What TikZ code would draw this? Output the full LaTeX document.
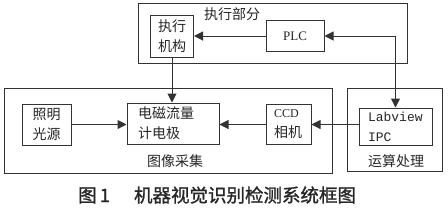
\documentclass[tikz,border=0pt]{standalone}
\usepackage{fontspec}
\setmainfont{Liberation Serif}
\newfontfamily\cjk{Noto Sans CJK SC}
\newfontfamily\cjkcap[FakeBold=1.2]{Noto Sans CJK SC}
\newfontfamily\mono{Liberation Mono}
\usetikzlibrary{arrows.meta}
\begin{document}
\begin{tikzpicture}[x=1pt,y=-1pt,
  box/.style={draw=black!80, line width=1pt, inner sep=0pt, font=\cjk\fontsize{14}{20}\selectfont, text=black!85, align=center},
  frame/.style={draw=black!80, line width=1pt},
  tip/.tip={Triangle[length=9pt,width=9pt]},
  arr/.style={draw=black!80, line width=1pt, -tip},
  lab/.style={font=\cjk\fontsize{14}{20}\selectfont, text=black!85, inner sep=0pt}]
\useasboundingbox (0,0) rectangle (448,210);
% frames
\draw[frame] (138,3) rectangle (407,63);
\draw[frame] (4,88) rectangle (332,173);
\draw[frame] (347,88) rectangle (442,171);
% top part
\node[lab] (tz) at (232,14) {执行部分};
\node[box, minimum width=43, minimum height=42] (zx) at (172,36) {执行\\机构};
\node[box, minimum width=58, minimum height=31, font=\rmfamily\fontsize{13}{15}\selectfont] (plc) at (295,36) {PLC};
% bottom part
\node[box, minimum width=49, minimum height=41] (zm) at (46.5,124.5) {照明\\光源};
\node[box, minimum height=41, text width=70, inner xsep=11, align=left] (dc) at (173,123.5) {电磁流量\\计电极};
\node[box, minimum height=40, text width=29, inner xsep=8, align=left] (ccd) at (288.5,124.5) {{\rmfamily\fontsize{12}{20}\selectfont CCD}\\相机};
\node[box, minimum height=37, text width=55, inner xsep=9, align=left, font=\mono\fontsize{13}{20}\selectfont] (lv) at (395.5,126.5) {Labview\\IPC};
\node[lab] (tx) at (175,161) {图像采集};
\node[lab] (ys) at (396,161) {运算处理};
% connectors
\draw[arr] (plc) -- (zx);
\draw[arr] (zx.south) -- (zx.south |- dc.north);
\draw[arr] (zm.east) -- (zm.east -| dc.west);
\draw[arr] (ccd.west) -- (ccd.west -| dc.east);
\draw[arr] (lv.west |- ccd) -- (ccd.east);
\draw[arr, tip-tip] (plc.east) -| (lv.north);
% caption
\node[anchor=west, font=\cjkcap\fontsize{18.5}{20}\selectfont, text=black!85, inner sep=0pt] (cap) at (78,195) {图\,1\hspace{24pt}机器视觉识别检测系统框图};
\end{tikzpicture}
\end{document}
